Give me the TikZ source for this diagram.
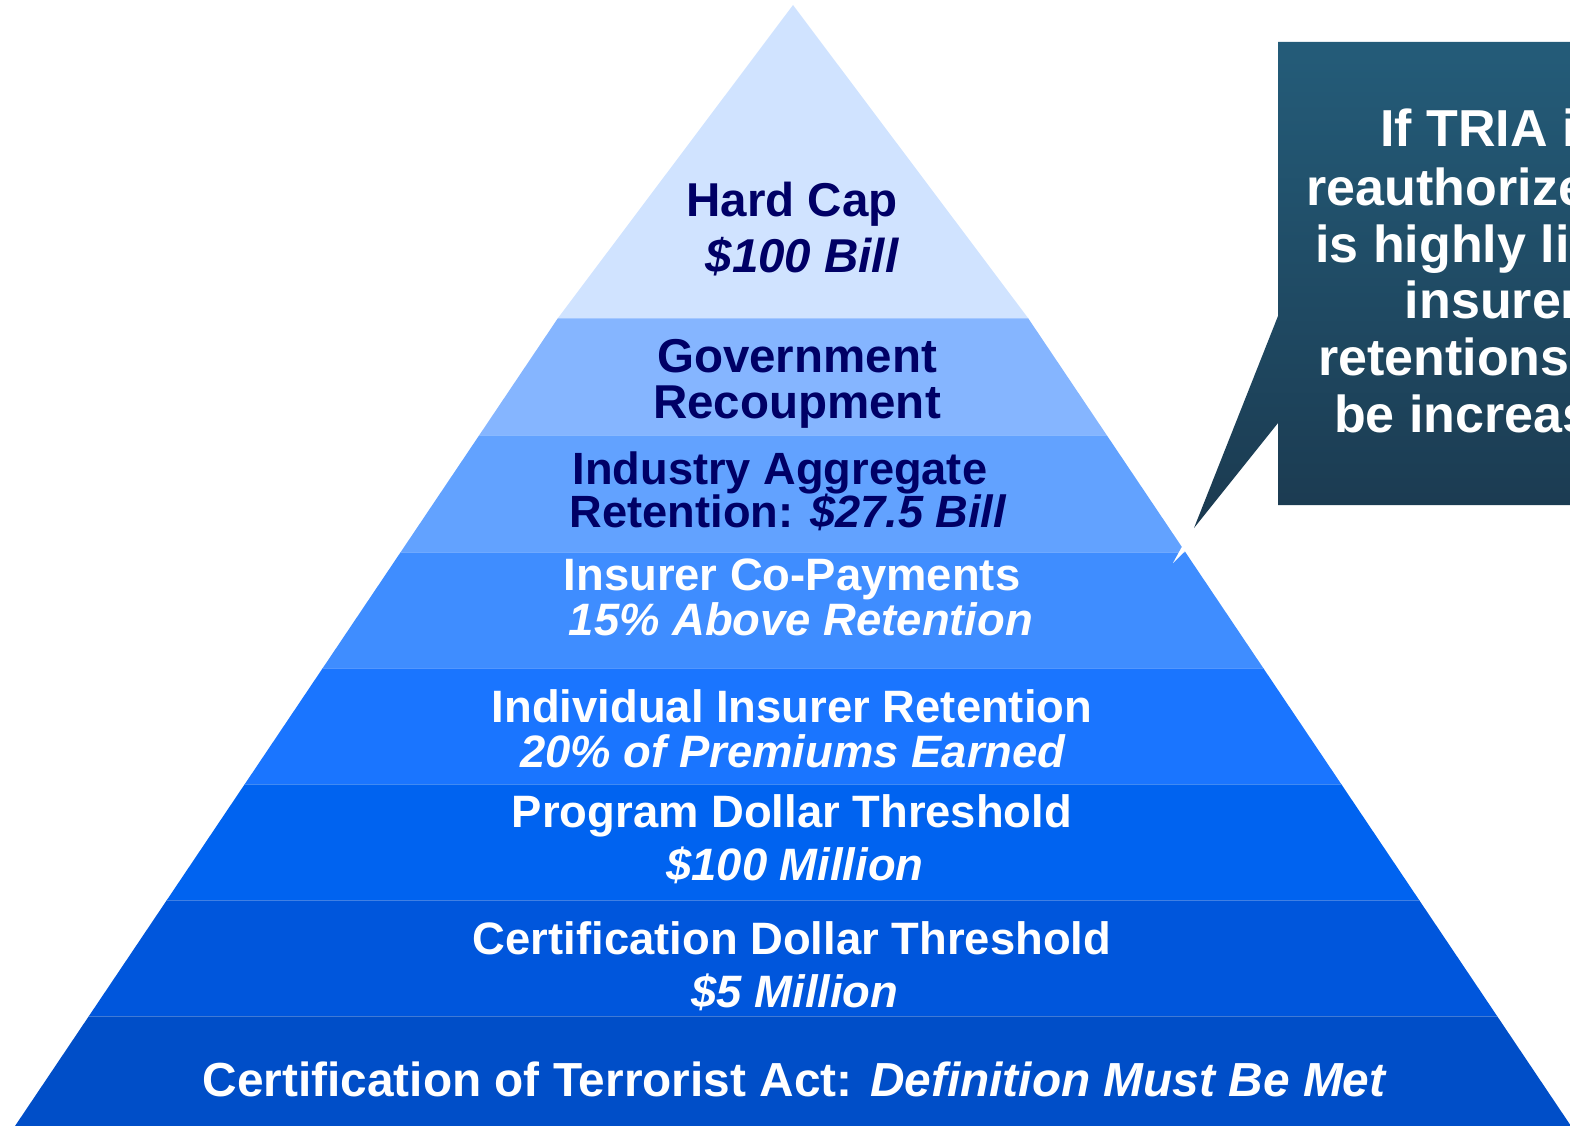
\documentclass[tikz,border=0pt]{standalone}
\usepackage{fontspec}
\usepackage{xcolor}
\setmainfont{Liberation Sans}
\definecolor{bandA}{HTML}{D0E3FF}
\definecolor{bandB}{HTML}{85B5FF}
\definecolor{bandC}{HTML}{62A2FF}
\definecolor{bandD}{HTML}{3F8DFF}
\definecolor{bandE}{HTML}{1A75FF}
\definecolor{bandF}{HTML}{0063F0}
\definecolor{bandG}{HTML}{0056DC}
\definecolor{bandH}{HTML}{004EC8}
\definecolor{navytext}{HTML}{000066}
\definecolor{noteTop}{HTML}{245C79}
\definecolor{noteBot}{HTML}{1B3A50}
\begin{document}
\begin{tikzpicture}[x=1pt,y=-1pt,
  dark/.style={text=navytext,font=\bfseries\fontsize{47.5}{52}\selectfont,anchor=base,inner sep=0pt},
  light/.style={dark,text=white,font=\bfseries\fontsize{45.4}{50}\selectfont},
  note/.style={text=white,font=\bfseries\fontsize{52}{58}\selectfont,anchor=base,inner sep=0pt}]
  \useasboundingbox (0,0) rectangle (1570,1126);
  % bands, apex at (793,5), half width 235 at y=318
  \fill[bandA] (793,5) -- (1028,318) -- (558,318) -- cycle;
  \foreach \ya/\yb/\col in {318/435/bandB,435/552/bandC,552/668/bandD,668/784/bandE,784/900/bandF,900/1016/bandG,1016/1130/bandH}{
    \fill[\col] ({793-235-0.672*(\ya-318)},\ya) -- ({793+235+0.672*(\ya-318)},\ya) -- ({793+235+0.672*(\yb-318)},\yb) -- ({793-235-0.672*(\yb-318)},\yb) -- cycle;
    \draw[white,opacity=0.25,line width=1] ({793-235-0.672*(\ya-318)},\ya) -- ({793+235+0.672*(\ya-318)},\ya);
  }
  % texts
  \node[dark] (capA) at (792,216) {Hard Cap};
  \node[dark] (capB) at (802,272) {\itshape \$100 Bill};
  \node[dark] (govA) at (797,372) {Government};
  \node[dark] (govB) at (797,418) {Recoupment};
  \node[dark,font=\bfseries\fontsize{45.2}{50}\selectfont] (aggA) at (780,484) {Industry Aggregate};
  \node[dark,font=\bfseries\fontsize{45.2}{50}\selectfont] (aggB) at (788,527) {Retention: \itshape \$27.5 Bill};
  \node[light] (copayA) at (792,590) {Insurer Co-Payments};
  \node[light] (copayB) at (801,635) {\itshape 15\% Above Retention};
  \node[light] (indivA) at (792,722) {Individual Insurer Retention};
  \node[light] (indivB) at (793,767) {\itshape 20\% of Premiums Earned};
  \node[light] (progA) at (792,827) {Program Dollar Threshold};
  \node[light] (progB) at (795,880) {\itshape \$100 Million};
  \node[light] (certA) at (792,954) {Certification Dollar Threshold};
  \node[light] (certB) at (795,1007) {\itshape \$5 Million};
  \node[light,font=\bfseries\fontsize{47.8}{53}\selectfont] (actLine) at (794,1096) {Certification of Terrorist Act: \itshape Definition Must Be Met};
  % callout
  \begin{scope}
    \clip (0,0) rectangle (1570,1126);
    \shade[top color=noteTop,bottom color=noteBot] (1278,42) -- (1620,42) -- (1620,505) -- (1278,505) -- (1278,423) -- (1194,528) -- (1278,316) -- cycle;
    \fill[white] (1184,543) -- (1173,563) -- (1189,547) -- cycle;
    \node[note] (noteA) at (1493,147) {If TRIA is};
    \node[note] (noteB) at (1493,205) {reauthorized, it};
    \node[note] (noteC) at (1493,262) {is highly likely};
    \node[note] (noteD) at (1493,318) {insurer};
    \node[note] (noteE) at (1493,375) {retentions will};
    \node[note] (noteF) at (1493,432) {be increased};
  \end{scope}
\end{tikzpicture}
\end{document}
